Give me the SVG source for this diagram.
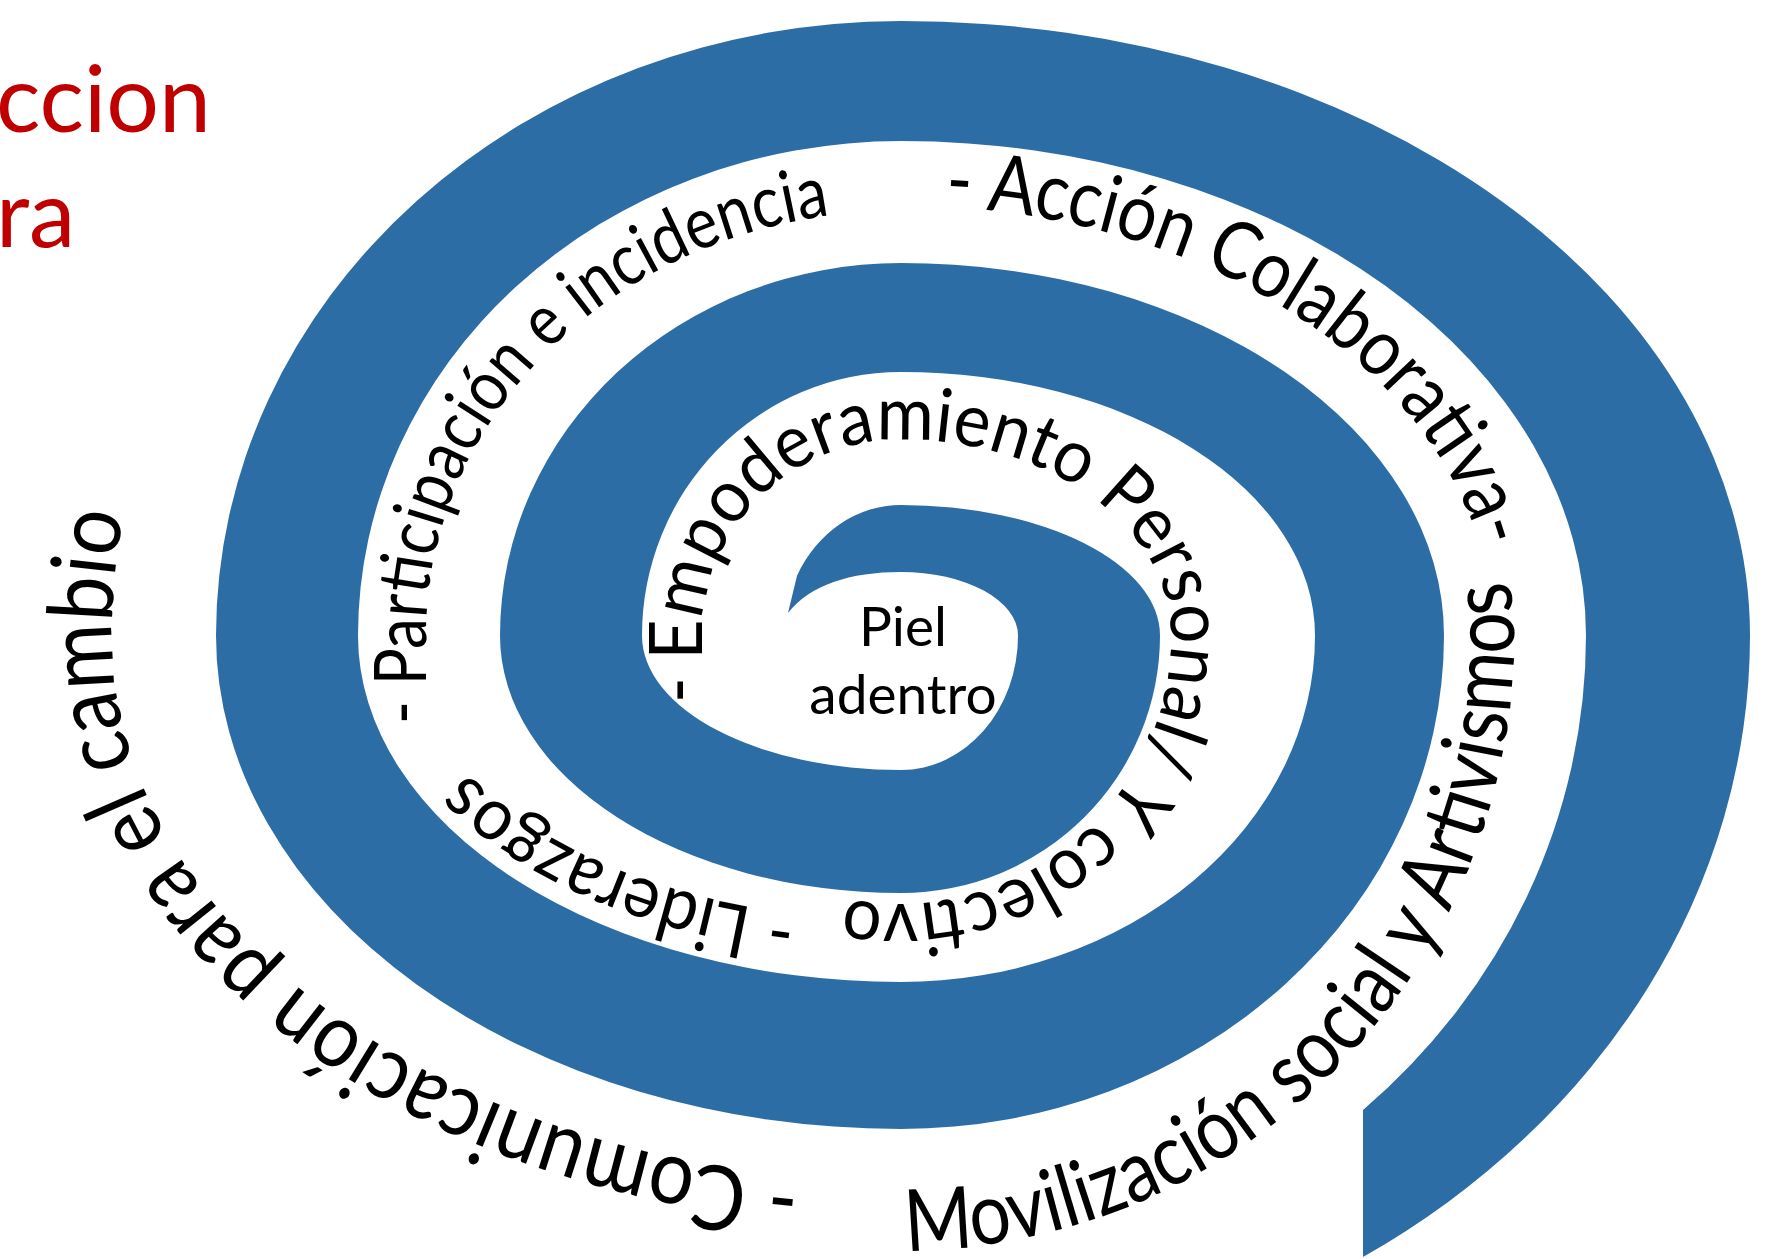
<svg xmlns="http://www.w3.org/2000/svg" xmlns:xlink="http://www.w3.org/1999/xlink" width="1765" height="1259" viewBox="0 0 1765 1259">
<style>
.band{fill:#2D6DA6;}
.lbl{font-family:Lato,"Open Sans","Liberation Sans",sans-serif;fill:#000;}
.red{font-family:Lato,"Open Sans","Liberation Sans",sans-serif;fill:#C00000;font-size:93px;}
</style>
<defs>
<path id="p1" d="M 702 705 L 702 635.5 A 199 196 0 0 1 901 439.5 A 270 196 0 0 1 1171 635.5 A 270 268 0 0 1 901 903.5 A 310 268 0 0 1 591 635.5"/>
<path id="p2" d="M 901 920.5 A 495 285 0 0 1 406 635.5"/>
<path id="p3" d="M 426 740 L 426 635.5 A 475 425 0 0 1 901 210.5 A 600 425 0 0 1 1501 635.5"/>
<path id="p4" d="M 901 205.5 A 592 430 0 0 1 1493 635.5 A 592 500 0 0 1 901 1135.5"/>
<path id="p5" d="M 901 1250.5 A 613 615 0 0 0 1514 635.5 A 613 430 0 0 0 901 205.5"/>
<path id="p6" d="M 901 1180.5 A 789 545 0 0 1 112 635.5 A 789 700 0 0 1 901 -64.5"/>
</defs>
<rect width="1765" height="1259" fill="#fff"/>
<g id="title">
<text class="red" x="-4" y="132">ccion</text>
<text class="red" x="-4" y="247">ra</text>
</g>
<g id="spiral">
<path class="band" d="M 797 575.7 A 117 130.5 0 0 1 901 505 A 259 130.5 0 0 1 1160 635.5 A 259 257.5 0 0 1 901 893 A 401 257.5 0 0 1 500 635.5 A 401 372.5 0 0 1 901 263 A 543 372.5 0 0 1 1444 635.5 A 543 493.5 0 0 1 901 1129 A 685 493.5 0 0 1 216 635.5 A 685 614.5 0 0 1 901 21 A 849 614.5 0 0 1 1750 635.5 A 849 740.8 0 0 1 1363 1257 L 1363 1110 A 685 642.7 0 0 0 1586 635.5 A 685 494.5 0 0 0 901 141 A 543 494.5 0 0 0 358 635.5 A 543 346.5 0 0 0 901 982 A 414 346.5 0 0 0 1315 635.5 A 414 263.5 0 0 0 901 372 A 259 263.5 0 0 0 642 635.5 A 259 134.5 0 0 0 901 770 A 117 134.5 0 0 0 1018 635.5 A 117 63.5 0 0 0 901 572 C 850 572 810 585 788 613 Z"/>
</g>
<g id="center-label">
<text class="lbl" x="903" y="646" font-size="55" text-anchor="middle">Piel</text>
<text class="lbl" x="903" y="714" font-size="55" text-anchor="middle">adentro</text>
</g>
<g id="spiral-texts">
<text id="t1" class="lbl" font-size="74"><textPath href="#p1" xlink:href="#p1" startOffset="2" textLength="1225" lengthAdjust="spacingAndGlyphs">- Empoderamiento Personal/ Y colectivo</textPath></text>
<text id="t2" class="lbl" font-size="74"><textPath href="#p2" xlink:href="#p2" startOffset="105" textLength="365" lengthAdjust="spacingAndGlyphs">- Liderazgos</textPath></text>
<text id="t3" class="lbl" font-size="72"><textPath href="#p3" xlink:href="#p3" startOffset="16" textLength="725" lengthAdjust="spacingAndGlyphs">- Participación e incidencia</textPath></text>
<text id="t4" class="lbl" font-size="80"><textPath href="#p4" xlink:href="#p4" startOffset="44" textLength="676" lengthAdjust="spacingAndGlyphs">- Acción Colaborativa-</textPath></text>
<text id="t5" class="lbl" font-size="86"><textPath href="#p5" xlink:href="#p5" startOffset="5" textLength="1015" lengthAdjust="spacingAndGlyphs">Movilización social y Artivismos</textPath></text>
<text id="t6" class="lbl" font-size="90"><textPath href="#p6" xlink:href="#p6" startOffset="101" textLength="1078" lengthAdjust="spacingAndGlyphs">- Comunicación para el cambio</textPath></text>
</g>
</svg>
